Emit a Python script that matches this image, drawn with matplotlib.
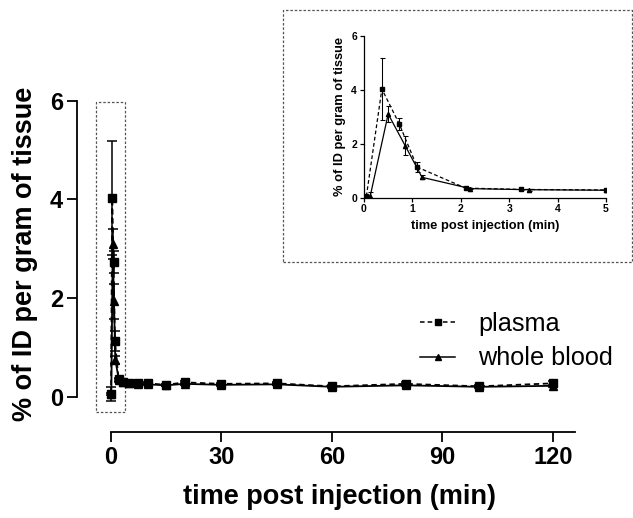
#!/usr/bin/env python3
# ------------------------------------------------------------
# Blood kinetics: % ID per gram (plasma vs whole blood)
# main panel 0-120 min, inset zoom on the first 5 min
# ------------------------------------------------------------

import matplotlib
matplotlib.use("Agg")

import matplotlib.pyplot as plt
from matplotlib.lines import Line2D
from matplotlib.patches import Rectangle

# ------------------------------------------------------------
# Data
# ------------------------------------------------------------
plasma_t = [0.05, 0.37, 0.73, 1.1, 2.1, 3.25, 5, 7.5, 10, 15, 20, 30, 45, 60, 80, 100, 120]
plasma_v = [0.05, 4.03, 2.73, 1.13, 0.35, 0.30, 0.28, 0.27, 0.27, 0.24, 0.29, 0.26, 0.27, 0.21, 0.26, 0.21, 0.27]
plasma_e = [0.02, 1.15, 0.22, 0.20, 0.03, 0.03, 0.02, 0.02, 0.02, 0.02, 0.03, 0.02, 0.03, 0.02, 0.03, 0.02, 0.05]

blood_t = [0.13, 0.5, 0.85, 1.2, 2.2, 3.4, 5, 7.5, 10, 15, 20, 30, 45, 60, 80, 100, 120]
blood_v = [0.06, 3.10, 1.93, 0.75, 0.33, 0.29, 0.27, 0.25, 0.25, 0.23, 0.26, 0.24, 0.25, 0.20, 0.23, 0.20, 0.22]
blood_e = [0.14, 0.30, 0.35, 0.08, 0.03, 0.04, 0.02, 0.02, 0.02, 0.02, 0.02, 0.02, 0.02, 0.02, 0.02, 0.02, 0.02]

main_xticks = [0, 30, 60, 90, 120]
main_yticks = [0, 2, 4, 6]
inset_xticks = [0, 1, 2, 3, 4, 5]
inset_yticks = [0, 2, 4, 6]

x_label = "time post injection (min)"
y_label = "% of ID per gram of tissue"
legend_labels = ["plasma", "whole blood"]


def draw_series(ax, lw, ms, cap):
    """Plasma (dashed, squares) and whole blood (solid, triangles)."""
    ax.errorbar(plasma_t, plasma_v, yerr=plasma_e, color="black",
                linestyle="--", dashes=(3, 2), linewidth=lw,
                marker="s", markersize=ms, elinewidth=lw * 0.85,
                capsize=cap, capthick=lw * 0.85, ecolor="black")
    ax.errorbar(blood_t, blood_v, yerr=blood_e, color="black",
                linestyle="-", linewidth=lw,
                marker="^", markersize=ms, elinewidth=lw * 0.85,
                capsize=cap, capthick=lw * 0.85, ecolor="black")


def main() -> int:
    plt.rcParams["font.family"] = ["Liberation Sans", "DejaVu Sans"]

    fig = plt.figure(figsize=(6.33, 5.18), dpi=100)

    # ------------------------------------------------------------
    # Main panel
    # ------------------------------------------------------------
    ax = fig.add_axes([0.1216, 0.1666, 0.7867, 0.6390])
    draw_series(ax, lw=1.3, ms=5.5, cap=3.5)

    ax.set_xlim(-9.2, 126)
    ax.set_ylim(-0.71, 6.0)
    for s in ("top", "right"):
        ax.spines[s].set_visible(False)
    ax.spines["left"].set_bounds(0, 6)
    ax.spines["bottom"].set_bounds(0, 126)
    for s in ("left", "bottom"):
        ax.spines[s].set_linewidth(1.3)

    ax.set_xticks(main_xticks)
    ax.set_yticks(main_yticks)
    ax.tick_params(axis="both", direction="out", length=7, width=1.3,
                   labelsize=17)
    ax.tick_params(axis="x", pad=3.5)
    ax.tick_params(axis="y", pad=3)
    for lab in ax.get_xticklabels() + ax.get_yticklabels():
        lab.set_fontweight("bold")

    ax.set_xlabel(x_label, fontsize=19.5, fontweight="bold")
    ax.set_ylabel(y_label, fontsize=19.5, fontweight="bold")
    ax.xaxis.set_label_coords(0.528, -0.158)
    ax.yaxis.set_label_coords(-0.078, 0.537)

    # dashed box marking the zoomed region
    ax.add_patch(Rectangle((-4.0, -0.32), 7.9, 6.3, fill=False,
                           edgecolor="#555555", linewidth=0.9,
                           linestyle=(0, (2, 1.5)), clip_on=False))

    # legend with plain line+marker handles (no error bars)
    handles = [
        Line2D([], [], color="black", linestyle="--", dashes=(3, 2),
               linewidth=1.1, marker="s", markersize=4),
        Line2D([], [], color="black", linestyle="-", linewidth=1.1,
               marker="^", markersize=4),
    ]
    ax.legend(handles, legend_labels, loc="upper left",
              bbox_to_anchor=(0.6635, 0.398),
              bbox_transform=fig.transFigure, frameon=False,
              fontsize=18.2, handlelength=1.4, handletextpad=0.9,
              labelspacing=0.42, borderpad=0, borderaxespad=0)

    # ------------------------------------------------------------
    # Inset (first 5 minutes)
    # ------------------------------------------------------------
    ins = fig.add_axes([0.5750, 0.6187, 0.3823, 0.3118])
    draw_series(ins, lw=0.9, ms=3, cap=1.8)
    ins.set_xlim(0, 5)
    ins.set_ylim(0, 6)
    for s in ("top", "right"):
        ins.spines[s].set_visible(False)
    for s in ("left", "bottom"):
        ins.spines[s].set_linewidth(0.9)
    ins.set_xticks(inset_xticks)
    ins.set_yticks(inset_yticks)
    ins.tick_params(axis="both", direction="out", length=3, width=0.9,
                    labelsize=7.5, pad=2)
    for lab in ins.get_xticklabels() + ins.get_yticklabels():
        lab.set_fontweight("bold")
    ins.set_xlabel(x_label, fontsize=9.3, fontweight="bold", labelpad=4)
    ins.set_ylabel(y_label, fontsize=9.3, fontweight="bold", labelpad=4)

    # dashed frame around the inset
    fig.patches.append(Rectangle((283 / 633, 1 - 262 / 518),
                                 349 / 633, 252 / 518,
                                 transform=fig.transFigure, fill=False,
                                 edgecolor="#555555", linewidth=0.9,
                                 linestyle=(0, (2, 1.5))))

    fig.savefig("out.png", dpi=100)
    plt.close(fig)
    return 0


if __name__ == "__main__":
    raise SystemExit(main())
